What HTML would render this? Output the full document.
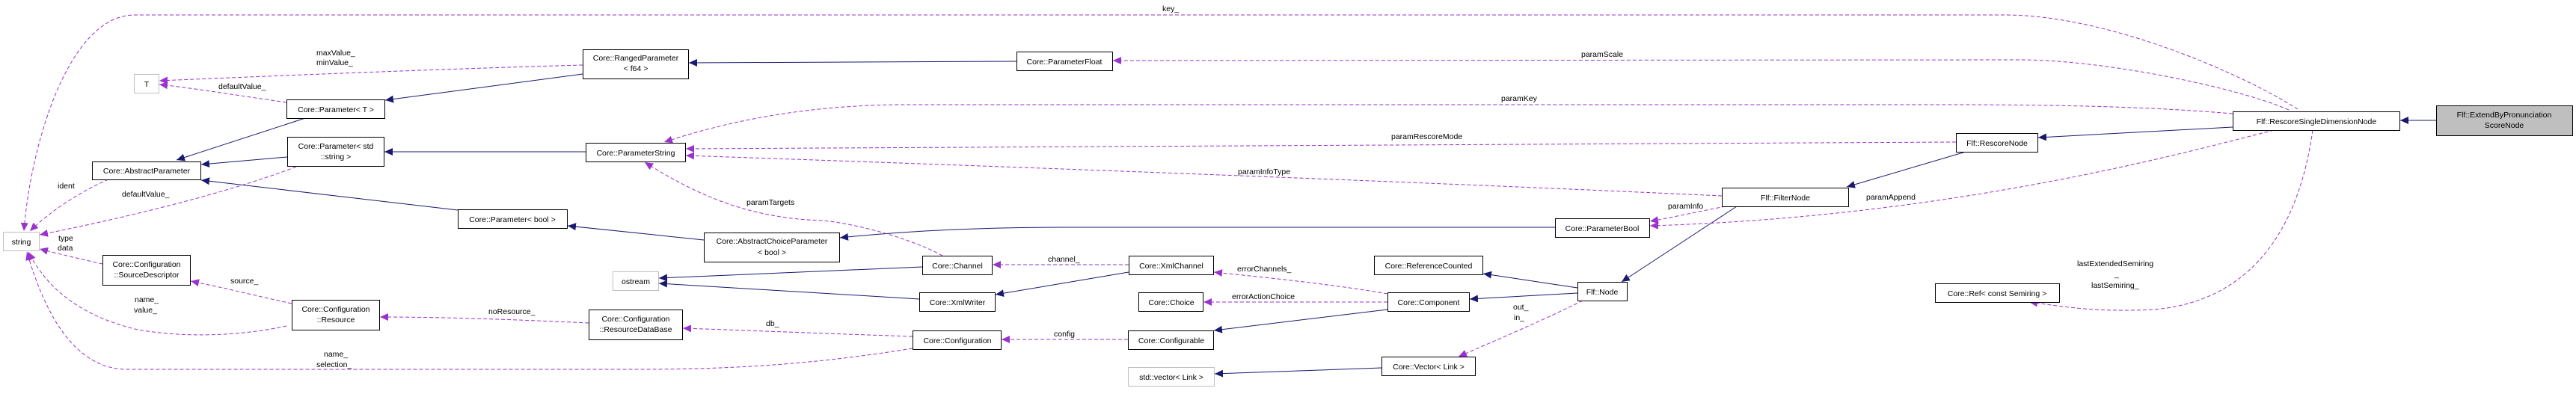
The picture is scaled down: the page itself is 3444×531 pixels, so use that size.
<!DOCTYPE html>
<html><head><meta charset="utf-8"><style>
html,body{margin:0;padding:0;background:#fff;}
svg{display:block;}
text{font-family:"Liberation Sans",Arial,sans-serif;font-size:10.5px;fill:#000;}
.n{fill:#fff;stroke:#000;stroke-width:1;}
.g{fill:#fff;stroke:#bfbfbf;stroke-width:1;}
.s{fill:none;stroke:#191970;stroke-width:1;}
.d{fill:none;stroke:#9a32cd;stroke-width:1;stroke-dasharray:5,3;}
</style></head><body>
<svg width="3444" height="531" viewBox="0 0 3444 531" xmlns="http://www.w3.org/2000/svg">
<defs>
<marker id="an" markerUnits="userSpaceOnUse" markerWidth="12" markerHeight="10" refX="11" refY="5" orient="auto"><path d="M0,0 L11,5 L0,10 z" fill="#191970"/></marker>
<marker id="ap" markerUnits="userSpaceOnUse" markerWidth="12" markerHeight="10" refX="11" refY="5" orient="auto"><path d="M0,0 L11,5 L0,10 z" fill="#9a32cd"/></marker>
</defs>

<g class="s" marker-end="url(#an)">
<path d="M779,99 L515,134"/>
<path d="M1359,82 L921,84"/>
<path d="M408,158 L236,214"/>
<path d="M384,210 L269,220"/>
<path d="M612,281 L269,241"/>
<path d="M783,203 L514,203"/>
<path d="M941,321 L759,302"/>
<path d="M2079,304 L1420,304 C1300,304 1200,310 1123,318"/>
<path d="M1233,357 L881,372"/>
<path d="M1229,400 L881,379"/>
<path d="M1509,364 L1331,394"/>
<path d="M1855,414 L1623,442"/>
<path d="M2109,385 L1983,366"/>
<path d="M2109,392 L1965,400"/>
<path d="M2322,276 L2168,377"/>
<path d="M2628,203 L2469,250"/>
<path d="M2985,170 L2725,184"/>
<path d="M3257,161 L3209,161"/>
<path d="M1847,492 L1624,500"/>
</g>

<g class="d" marker-end="url(#ap)">
<path d="M3072,146 C3000,100 2820,20 2680,20 L180,20 C90,20 40,200 32,309"/>
<path d="M3060,147 C3000,120 2820,80 2700,80 L1488,81"/>
<path d="M2985,152 C2900,145 2800,140 2600,140 L1200,140 C1050,142 950,170 888,190"/>
<path d="M2615,190 L917,199"/>
<path d="M2302,262 C2000,248 1500,228 917,208"/>
<path d="M1260,342 C1220,320 1150,300 1100,295 C1000,292 930,260 862,217"/>
<path d="M2307,276 C2260,285 2240,290 2206,296"/>
<path d="M3040,174 C2900,210 2600,290 2206,302"/>
<path d="M3092,174 C3080,260 3040,400 2880,414 C2800,418 2760,410 2713,404"/>
<path d="M2116,402 C2060,430 2000,455 1950,477"/>
<path d="M1855,393 C1780,380 1700,372 1623,364"/>
<path d="M1855,404 L1609,404"/>
<path d="M1508,454 L1339,454"/>
<path d="M1509,354 L1327,354"/>
<path d="M1220,450 C1100,446 1000,442 913,439"/>
<path d="M1220,466 C1100,485 1000,494 850,494 L170,494 C100,494 60,420 36,337"/>
<path d="M787,432 C700,428 600,424 508,424"/>
<path d="M390,406 C340,395 300,385 255,376"/>
<path d="M383,436 C320,450 240,452 180,440 C100,420 60,380 38,337"/>
<path d="M137,353 C110,347 80,340 53,333"/>
<path d="M145,240 C110,255 70,280 40,309"/>
<path d="M396,223 C300,260 150,295 53,314"/>
<path d="M383,137 C320,128 260,118 213,113"/>
<path d="M779,87 C600,92 400,100 213,108"/>
</g>

<rect class="g" x="4.5" y="310.5" width="48" height="25"/><text x="28.5" y="327" text-anchor="middle">string</text>
<rect class="g" x="179.5" y="99.5" width="33" height="25"/><text x="196" y="116" text-anchor="middle">T</text>
<rect class="n" x="383.5" y="133.5" width="131" height="25"/><text x="449" y="150" text-anchor="middle">Core::Parameter&lt; T &gt;</text>
<rect class="n" x="384.5" y="183.5" width="129" height="39"/><text x="449" y="199" text-anchor="middle">Core::Parameter&lt; std</text><text x="449" y="213" text-anchor="middle">::string &gt;</text>
<rect class="n" x="123.5" y="216.5" width="145" height="24"/><text x="196" y="232" text-anchor="middle">Core::AbstractParameter</text>
<rect class="n" x="137.5" y="341.5" width="117" height="40"/><text x="196" y="357" text-anchor="middle">Core::Configuration</text><text x="196" y="371" text-anchor="middle">::SourceDescriptor</text>
<rect class="n" x="390.5" y="401.5" width="117" height="40"/><text x="449" y="417" text-anchor="middle">Core::Configuration</text><text x="449" y="431" text-anchor="middle">::Resource</text>
<rect class="n" x="779.5" y="66.5" width="141" height="39"/><text x="850" y="81" text-anchor="middle">Core::RangedParameter</text><text x="850" y="95" text-anchor="middle">&lt; f64 &gt;</text>
<rect class="n" x="783.5" y="191.5" width="133" height="25"/><text x="850" y="208" text-anchor="middle">Core::ParameterString</text>
<rect class="n" x="612.5" y="280.5" width="146" height="25"/><text x="685" y="297" text-anchor="middle">Core::Parameter&lt; bool &gt;</text>
<rect class="n" x="941.5" y="311.5" width="181" height="39"/><text x="1032" y="326" text-anchor="middle">Core::AbstractChoiceParameter</text><text x="1032" y="341" text-anchor="middle">&lt; bool &gt;</text>
<rect class="g" x="819.5" y="363.5" width="61" height="25"/><text x="850" y="380" text-anchor="middle">ostream</text>
<rect class="n" x="787.5" y="414.5" width="125" height="40"/><text x="850" y="430" text-anchor="middle">Core::Configuration</text><text x="850" y="444" text-anchor="middle">::ResourceDataBase</text>
<rect class="n" x="1359.5" y="69.5" width="128" height="25"/><text x="1423" y="86" text-anchor="middle">Core::ParameterFloat</text>
<rect class="n" x="1233.5" y="342.5" width="93" height="25"/><text x="1280" y="359" text-anchor="middle">Core::Channel</text>
<rect class="n" x="1509.5" y="342.5" width="113" height="25"/><text x="1566" y="359" text-anchor="middle">Core::XmlChannel</text>
<rect class="n" x="1229.5" y="391.5" width="101" height="25"/><text x="1280" y="408" text-anchor="middle">Core::XmlWriter</text>
<rect class="n" x="1522.5" y="391.5" width="86" height="25"/><text x="1566" y="408" text-anchor="middle">Core::Choice</text>
<rect class="n" x="1220.5" y="442.5" width="118" height="25"/><text x="1280" y="459" text-anchor="middle">Core::Configuration</text>
<rect class="n" x="1508.5" y="442.5" width="114" height="25"/><text x="1566" y="459" text-anchor="middle">Core::Configurable</text>
<rect class="g" x="1508.5" y="491.5" width="115" height="25"/><text x="1566" y="508" text-anchor="middle">std::vector&lt; Link &gt;</text>
<rect class="n" x="2302.5" y="251.5" width="169" height="25"/><text x="2387" y="268" text-anchor="middle">Flf::FilterNode</text>
<rect class="n" x="2079.5" y="292.5" width="126" height="25"/><text x="2142" y="309" text-anchor="middle">Core::ParameterBool</text>
<rect class="n" x="1837.5" y="342.5" width="145" height="25"/><text x="1910" y="359" text-anchor="middle">Core::ReferenceCounted</text>
<rect class="n" x="2109.5" y="377.5" width="66" height="25"/><text x="2142" y="394" text-anchor="middle">Flf::Node</text>
<rect class="n" x="1855.5" y="391.5" width="109" height="25"/><text x="1910" y="408" text-anchor="middle">Core::Component</text>
<rect class="n" x="1847.5" y="477.5" width="125" height="25"/><text x="1910" y="494" text-anchor="middle">Core::Vector&lt; Link &gt;</text>
<rect class="n" x="2615.5" y="178.5" width="109" height="25"/><text x="2670" y="195" text-anchor="middle">Flf::RescoreNode</text>
<rect class="n" x="2587.5" y="379.5" width="166" height="25"/><text x="2670" y="396" text-anchor="middle">Core::Ref&lt; const Semiring &gt;</text>
<rect class="n" x="2985.5" y="149.5" width="223" height="25"/><text x="3097" y="166" text-anchor="middle">Flf::RescoreSingleDimensionNode</text>
<rect x="3257.5" y="141.5" width="182" height="40" fill="#bfbfbf" stroke="#000"/><text x="3348" y="157" text-anchor="middle">Flf::ExtendByPronunciation</text><text x="3348" y="171" text-anchor="middle">ScoreNode</text>

<text x="1554" y="15">key_</text>
<text x="2114" y="76">paramScale</text>
<text x="2007" y="135">paramKey</text>
<text x="1860" y="186">paramRescoreMode</text>
<text x="1655" y="233">paramInfoType</text>
<text x="998" y="274">paramTargets</text>
<text x="2230" y="279">paramInfo</text>
<text x="2495" y="267">paramAppend</text>
<text x="2777" y="356">lastExtendedSemiring</text>
<text x="2827" y="370">_</text>
<text x="2796" y="385">lastSemiring_</text>
<text x="2023" y="414">out_</text>
<text x="2024" y="428">in_</text>
<text x="1654" y="363">errorChannels_</text>
<text x="1647" y="400">errorActionChoice</text>
<text x="1409" y="450">config</text>
<text x="1401" y="350">channel_</text>
<text x="1024" y="436">db_</text>
<text x="653" y="420">noResource_</text>
<text x="433" y="477">name_</text>
<text x="423" y="491">selection_</text>
<text x="308" y="379">source_</text>
<text x="180" y="404">name_</text>
<text x="179" y="418">value_</text>
<text x="78" y="322">type</text>
<text x="77" y="335">data</text>
<text x="77" y="252">ident</text>
<text x="163" y="263">defaultValue_</text>
<text x="292" y="119">defaultValue_</text>
<text x="423" y="74">maxValue_</text>
<text x="423" y="87">minValue_</text>
</svg>
</body></html>
